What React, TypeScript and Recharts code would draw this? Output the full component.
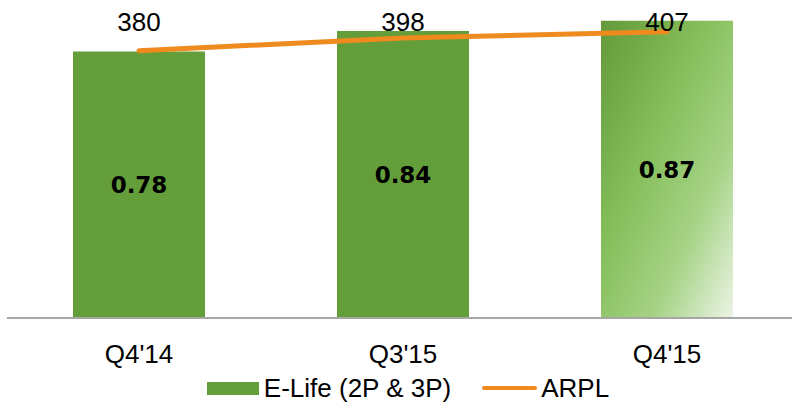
import React from 'react';
import { ComposedChart, Bar, Line, XAxis, YAxis, Cell, LabelList, Legend } from 'recharts';

// Quarterly E-Life subscribers (millions) and ARPL
const quarters = ["Q4'14", "Q3'15", "Q4'15"];
const eLifeSubs = [0.78, 0.84, 0.87];
const arplValues = [380, 398, 407];
const seriesNames = { elife: 'E-Life (2P & 3P)', arpl: 'ARPL' };
const legendOrder = ['elife', 'arpl'];

const data = quarters.map((q, i) => ({ quarter: q, elife: eLifeSubs[i], arpl: arplValues[i] }));

const GREEN = '#649E3B';
const ORANGE = '#EE8A1E';
const FONT = "'Liberation Sans', Arial, sans-serif";
const BOLD_FONT = "'DejaVu Sans', Verdana, sans-serif";

const ArplLabel = (props: any) => {
  const { x, value } = props;
  return (
    <text x={x} y={31} textAnchor="middle" fontFamily={FONT} fontSize={26} fill="#000">
      {value}
    </text>
  );
};

const renderLegend = (props: any) => {
  const items = [...(props.payload || [])].sort(
    (a: any, b: any) => legendOrder.indexOf(a.dataKey) - legendOrder.indexOf(b.dataKey)
  );
  return (
    <div
      style={{
        display: 'flex',
        justifyContent: 'center',
        alignItems: 'center',
        height: 30,
        paddingLeft: 16,
        fontFamily: FONT,
        fontSize: 26,
        color: '#000',
        lineHeight: '30px',
      }}
    >
      {items.map((it: any, i: number) => (
        <div key={i} style={{ display: 'flex', alignItems: 'center', marginLeft: i === 0 ? 0 : 31 }}>
          {it.dataKey === 'elife' ? (
            <span style={{ display: 'inline-block', width: 52, height: 13, background: GREEN, marginRight: 5 }} />
          ) : (
            <span
              style={{ display: 'inline-block', width: 55, height: 4, background: ORANGE, borderRadius: 2, marginRight: 4 }}
            />
          )}
          <span>{it.value}</span>
        </div>
      ))}
    </div>
  );
};

export default function App() {
  return (
    <div style={{ position: 'absolute', left: 0, top: 0, width: 792, height: 403, overflow: 'hidden', background: '#fff' }}>
      <ComposedChart
        width={800}
        height={403}
        data={data}
        margin={{ top: 19, right: 1, bottom: 0, left: 7 }}
        barCategoryGap="25%"
      >
        <defs>
          <linearGradient id="fadeGreen" x1="0" y1="0" x2="1" y2="1">
            <stop offset="0%" stopColor="#64993A" />
            <stop offset="40%" stopColor="#86BF5C" />
            <stop offset="70%" stopColor="#A6D386" />
            <stop offset="100%" stopColor="#ECF4E6" />
          </linearGradient>
        </defs>
        <XAxis
          dataKey="quarter"
          height={55}
          axisLine={{ stroke: '#A6A6A6', strokeWidth: 2 }}
          tickLine={false}
          tickSize={0}
          tickMargin={27}
          tick={{ fontFamily: FONT, fontSize: 26, fill: '#000' }}
        />
        <YAxis yAxisId="subs" hide domain={[0, 0.875]} />
        <YAxis yAxisId="arpl" hide orientation="right" domain={[0, 425]} />
        <Bar yAxisId="subs" dataKey="elife" name={seriesNames.elife} fill={GREEN} isAnimationActive={false}>
          {data.map((_, i) => (
            <Cell key={i} fill={i === data.length - 1 ? 'url(#fadeGreen)' : GREEN} />
          ))}
          <LabelList
            dataKey="elife"
            position="center"
            fill="#000"
            fontFamily={BOLD_FONT}
            fontSize={23}
            fontWeight="bold"
          />
        </Bar>
        <Line
          yAxisId="arpl"
          dataKey="arpl"
          name={seriesNames.arpl}
          stroke={ORANGE}
          strokeWidth={5}
          strokeLinecap="round"
          dot={false}
          activeDot={false}
          isAnimationActive={false}
        >
          <LabelList dataKey="arpl" content={ArplLabel} />
        </Line>
        <Legend
          verticalAlign="bottom"
          content={renderLegend}
          wrapperStyle={{ left: 0, width: 800 }}
        />
      </ComposedChart>
    </div>
  );
}
